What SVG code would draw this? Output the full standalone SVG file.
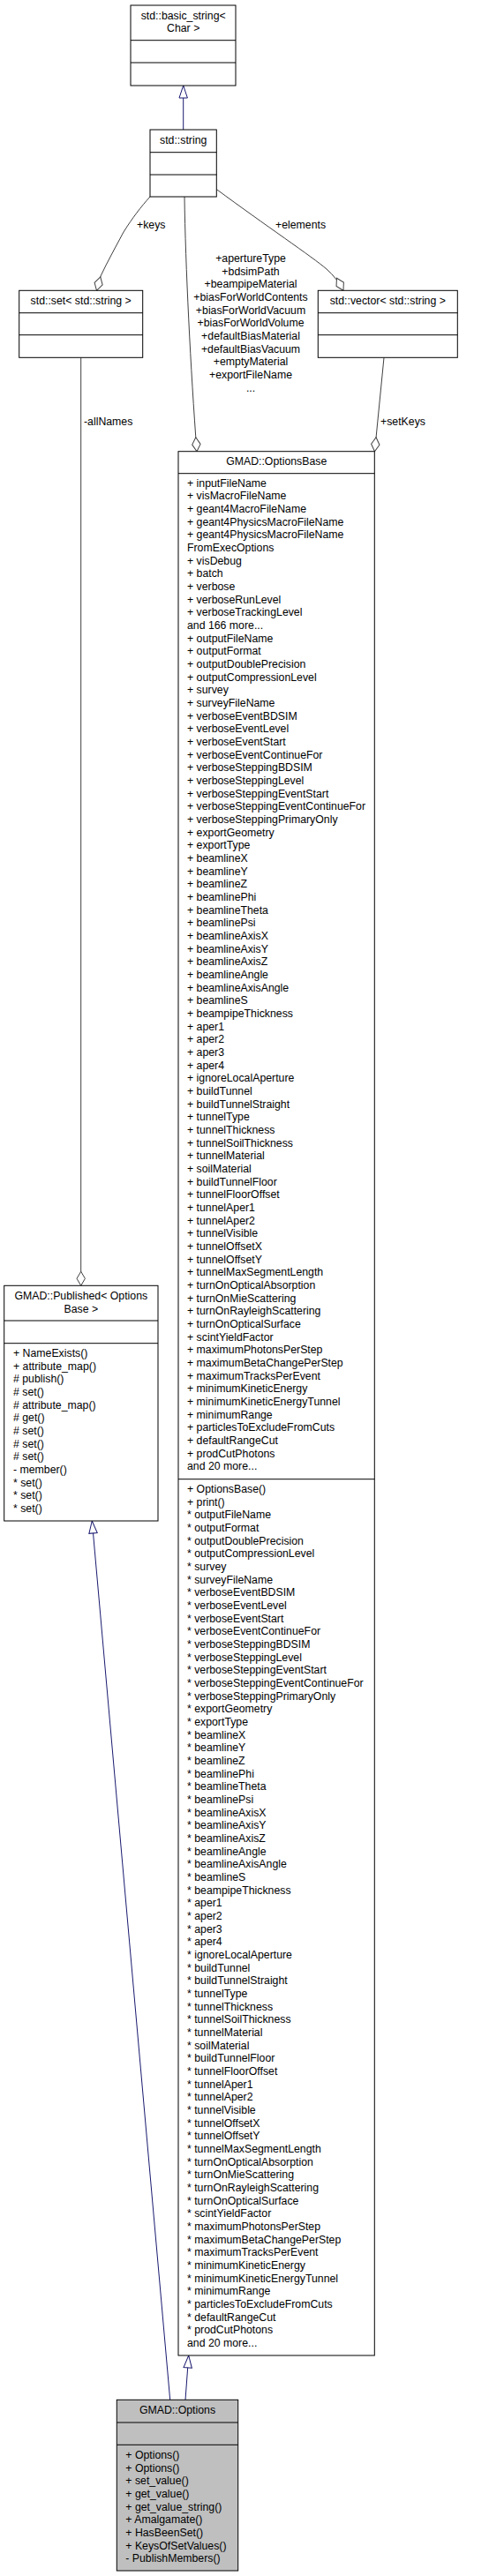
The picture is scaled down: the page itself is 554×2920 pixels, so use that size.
<svg xmlns="http://www.w3.org/2000/svg" width="554" height="2920" viewBox="0 0 554 2920">
<style>
text{font-family:"Liberation Sans",Arial,Helvetica,sans-serif;font-size:12.3px;fill:#000}
.c{text-anchor:middle}
.box{fill:#fff;stroke:#000;stroke-width:1}
.main{fill:#bfbfbf;stroke:#000;stroke-width:1}
.div{stroke:#000;stroke-width:1}
.agg{fill:none;stroke:#404040;stroke-width:1;marker-end:url(#dia)}
.inh{fill:none;stroke:#191970;stroke-width:1;marker-end:url(#tri)}
</style>
<defs>
<marker id="dia" markerUnits="userSpaceOnUse" orient="auto" refX="16" refY="0" markerWidth="20" markerHeight="12" overflow="visible">
<path d="M0,0 L8,-4.7 L16,0 L8,4.7 Z" fill="#fff" stroke="#404040" stroke-width="1"/>
</marker>
<marker id="tri" markerUnits="userSpaceOnUse" orient="auto" refX="14" refY="0" markerWidth="16" markerHeight="12" overflow="visible">
<path d="M0,-4.7 L14,0 L0,4.7 Z" fill="#fff" stroke="#191970" stroke-width="1"/>
</marker>
</defs>

<g id="connectors">
<path class="inh" d="M207.7,147 L207.7,97"/>
<path class="agg" d="M170,223 C160,234 150,247 140,263 C132,278 121,298 114,313 L109.5,329.3"/>
<path class="agg" d="M209,223 C210,300 216,420 223,511.7"/>
<path class="agg" d="M245.5,214.7 C300,255 355,292 370,305 C378,312 384,320 389,329.3"/>
<path class="agg" d="M435,405.3 L424.5,511.7"/>
<path class="agg" d="M91.7,405.3 L91.7,1457.3"/>
<path class="inh" d="M192.7,2720.3 L104.3,1724"/>
<path class="inh" d="M210,2720.3 L213.7,2670"/>
<text x="155" y="258.5">+keys</text>
<text x="312" y="258.5">+elements</text>
<text x="95" y="482">-allNames</text>
<text x="431" y="482">+setKeys</text>
<text class="c" y="297"><tspan x="284">+apertureType</tspan><tspan x="284" dy="14.667">+bdsimPath</tspan><tspan x="284" dy="14.667">+beampipeMaterial</tspan><tspan x="284" dy="14.667">+biasForWorldContents</tspan><tspan x="284" dy="14.667">+biasForWorldVacuum</tspan><tspan x="284" dy="14.667">+biasForWorldVolume</tspan><tspan x="284" dy="14.667">+defaultBiasMaterial</tspan><tspan x="284" dy="14.667">+defaultBiasVacuum</tspan><tspan x="284" dy="14.667">+emptyMaterial</tspan><tspan x="284" dy="14.667">+exportFileName</tspan><tspan x="284" dy="14.667">...</tspan></text>
</g>

<g id="node-basic_string">
<rect class="box" x="148" y="6" width="119" height="91"/>
<line class="div" x1="148" y1="45.7" x2="267" y2="45.7"/>
<line class="div" x1="148" y1="71" x2="267" y2="71"/>
<text class="c" x="207.7" y="21.6">std::basic_string&lt;</text>
<text class="c" x="207.7" y="36">Char &gt;</text>
</g>

<g id="node-string">
<rect class="box" x="170" y="147" width="75.3" height="76"/>
<line class="div" x1="170" y1="172.7" x2="245.3" y2="172.7"/>
<line class="div" x1="170" y1="198" x2="245.3" y2="198"/>
<text class="c" x="207.7" y="163">std::string</text>
</g>

<g id="node-set">
<rect class="box" x="21.7" y="329.3" width="140" height="76"/>
<line class="div" x1="21.7" y1="354.7" x2="161.7" y2="354.7"/>
<line class="div" x1="21.7" y1="379.7" x2="161.7" y2="379.7"/>
<text class="c" x="91.7" y="345.3">std::set&lt; std::string &gt;</text>
</g>

<g id="node-vector">
<rect class="box" x="360.3" y="329.3" width="158" height="76"/>
<line class="div" x1="360.3" y1="354.7" x2="518.3" y2="354.7"/>
<line class="div" x1="360.3" y1="379.7" x2="518.3" y2="379.7"/>
<text class="c" x="439.3" y="345.3">std::vector&lt; std::string &gt;</text>
</g>

<g id="node-OptionsBase">
<rect class="box" x="202" y="511.7" width="222.3" height="2158.3"/>
<line class="div" x1="202" y1="536.7" x2="424.3" y2="536.7"/>
<line class="div" x1="202" y1="1676.7" x2="424.3" y2="1676.7"/>
<text class="c" x="313.2" y="526.6">GMAD::OptionsBase</text>
<text y="551.8"><tspan x="212">+ inputFileName</tspan><tspan x="212" dy="14.667">+ visMacroFileName</tspan><tspan x="212" dy="14.667">+ geant4MacroFileName</tspan><tspan x="212" dy="14.667">+ geant4PhysicsMacroFileName</tspan><tspan x="212" dy="14.667">+ geant4PhysicsMacroFileName</tspan><tspan x="212" dy="14.667">FromExecOptions</tspan><tspan x="212" dy="14.667">+ visDebug</tspan><tspan x="212" dy="14.667">+ batch</tspan><tspan x="212" dy="14.667">+ verbose</tspan><tspan x="212" dy="14.667">+ verboseRunLevel</tspan><tspan x="212" dy="14.667">+ verboseTrackingLevel</tspan><tspan x="212" dy="14.667">and 166 more...</tspan><tspan x="212" dy="14.667">+ outputFileName</tspan><tspan x="212" dy="14.667">+ outputFormat</tspan><tspan x="212" dy="14.667">+ outputDoublePrecision</tspan><tspan x="212" dy="14.667">+ outputCompressionLevel</tspan><tspan x="212" dy="14.667">+ survey</tspan><tspan x="212" dy="14.667">+ surveyFileName</tspan><tspan x="212" dy="14.667">+ verboseEventBDSIM</tspan><tspan x="212" dy="14.667">+ verboseEventLevel</tspan><tspan x="212" dy="14.667">+ verboseEventStart</tspan><tspan x="212" dy="14.667">+ verboseEventContinueFor</tspan><tspan x="212" dy="14.667">+ verboseSteppingBDSIM</tspan><tspan x="212" dy="14.667">+ verboseSteppingLevel</tspan><tspan x="212" dy="14.667">+ verboseSteppingEventStart</tspan><tspan x="212" dy="14.667">+ verboseSteppingEventContinueFor</tspan><tspan x="212" dy="14.667">+ verboseSteppingPrimaryOnly</tspan><tspan x="212" dy="14.667">+ exportGeometry</tspan><tspan x="212" dy="14.667">+ exportType</tspan><tspan x="212" dy="14.667">+ beamlineX</tspan><tspan x="212" dy="14.667">+ beamlineY</tspan><tspan x="212" dy="14.667">+ beamlineZ</tspan><tspan x="212" dy="14.667">+ beamlinePhi</tspan><tspan x="212" dy="14.667">+ beamlineTheta</tspan><tspan x="212" dy="14.667">+ beamlinePsi</tspan><tspan x="212" dy="14.667">+ beamlineAxisX</tspan><tspan x="212" dy="14.667">+ beamlineAxisY</tspan><tspan x="212" dy="14.667">+ beamlineAxisZ</tspan><tspan x="212" dy="14.667">+ beamlineAngle</tspan><tspan x="212" dy="14.667">+ beamlineAxisAngle</tspan><tspan x="212" dy="14.667">+ beamlineS</tspan><tspan x="212" dy="14.667">+ beampipeThickness</tspan><tspan x="212" dy="14.667">+ aper1</tspan><tspan x="212" dy="14.667">+ aper2</tspan><tspan x="212" dy="14.667">+ aper3</tspan><tspan x="212" dy="14.667">+ aper4</tspan><tspan x="212" dy="14.667">+ ignoreLocalAperture</tspan><tspan x="212" dy="14.667">+ buildTunnel</tspan><tspan x="212" dy="14.667">+ buildTunnelStraight</tspan><tspan x="212" dy="14.667">+ tunnelType</tspan><tspan x="212" dy="14.667">+ tunnelThickness</tspan><tspan x="212" dy="14.667">+ tunnelSoilThickness</tspan><tspan x="212" dy="14.667">+ tunnelMaterial</tspan><tspan x="212" dy="14.667">+ soilMaterial</tspan><tspan x="212" dy="14.667">+ buildTunnelFloor</tspan><tspan x="212" dy="14.667">+ tunnelFloorOffset</tspan><tspan x="212" dy="14.667">+ tunnelAper1</tspan><tspan x="212" dy="14.667">+ tunnelAper2</tspan><tspan x="212" dy="14.667">+ tunnelVisible</tspan><tspan x="212" dy="14.667">+ tunnelOffsetX</tspan><tspan x="212" dy="14.667">+ tunnelOffsetY</tspan><tspan x="212" dy="14.667">+ tunnelMaxSegmentLength</tspan><tspan x="212" dy="14.667">+ turnOnOpticalAbsorption</tspan><tspan x="212" dy="14.667">+ turnOnMieScattering</tspan><tspan x="212" dy="14.667">+ turnOnRayleighScattering</tspan><tspan x="212" dy="14.667">+ turnOnOpticalSurface</tspan><tspan x="212" dy="14.667">+ scintYieldFactor</tspan><tspan x="212" dy="14.667">+ maximumPhotonsPerStep</tspan><tspan x="212" dy="14.667">+ maximumBetaChangePerStep</tspan><tspan x="212" dy="14.667">+ maximumTracksPerEvent</tspan><tspan x="212" dy="14.667">+ minimumKineticEnergy</tspan><tspan x="212" dy="14.667">+ minimumKineticEnergyTunnel</tspan><tspan x="212" dy="14.667">+ minimumRange</tspan><tspan x="212" dy="14.667">+ particlesToExcludeFromCuts</tspan><tspan x="212" dy="14.667">+ defaultRangeCut</tspan><tspan x="212" dy="14.667">+ prodCutPhotons</tspan><tspan x="212" dy="14.667">and 20 more...</tspan></text>
<text y="1692"><tspan x="212">+ OptionsBase()</tspan><tspan x="212" dy="14.667">+ print()</tspan><tspan x="212" dy="14.667">* outputFileName</tspan><tspan x="212" dy="14.667">* outputFormat</tspan><tspan x="212" dy="14.667">* outputDoublePrecision</tspan><tspan x="212" dy="14.667">* outputCompressionLevel</tspan><tspan x="212" dy="14.667">* survey</tspan><tspan x="212" dy="14.667">* surveyFileName</tspan><tspan x="212" dy="14.667">* verboseEventBDSIM</tspan><tspan x="212" dy="14.667">* verboseEventLevel</tspan><tspan x="212" dy="14.667">* verboseEventStart</tspan><tspan x="212" dy="14.667">* verboseEventContinueFor</tspan><tspan x="212" dy="14.667">* verboseSteppingBDSIM</tspan><tspan x="212" dy="14.667">* verboseSteppingLevel</tspan><tspan x="212" dy="14.667">* verboseSteppingEventStart</tspan><tspan x="212" dy="14.667">* verboseSteppingEventContinueFor</tspan><tspan x="212" dy="14.667">* verboseSteppingPrimaryOnly</tspan><tspan x="212" dy="14.667">* exportGeometry</tspan><tspan x="212" dy="14.667">* exportType</tspan><tspan x="212" dy="14.667">* beamlineX</tspan><tspan x="212" dy="14.667">* beamlineY</tspan><tspan x="212" dy="14.667">* beamlineZ</tspan><tspan x="212" dy="14.667">* beamlinePhi</tspan><tspan x="212" dy="14.667">* beamlineTheta</tspan><tspan x="212" dy="14.667">* beamlinePsi</tspan><tspan x="212" dy="14.667">* beamlineAxisX</tspan><tspan x="212" dy="14.667">* beamlineAxisY</tspan><tspan x="212" dy="14.667">* beamlineAxisZ</tspan><tspan x="212" dy="14.667">* beamlineAngle</tspan><tspan x="212" dy="14.667">* beamlineAxisAngle</tspan><tspan x="212" dy="14.667">* beamlineS</tspan><tspan x="212" dy="14.667">* beampipeThickness</tspan><tspan x="212" dy="14.667">* aper1</tspan><tspan x="212" dy="14.667">* aper2</tspan><tspan x="212" dy="14.667">* aper3</tspan><tspan x="212" dy="14.667">* aper4</tspan><tspan x="212" dy="14.667">* ignoreLocalAperture</tspan><tspan x="212" dy="14.667">* buildTunnel</tspan><tspan x="212" dy="14.667">* buildTunnelStraight</tspan><tspan x="212" dy="14.667">* tunnelType</tspan><tspan x="212" dy="14.667">* tunnelThickness</tspan><tspan x="212" dy="14.667">* tunnelSoilThickness</tspan><tspan x="212" dy="14.667">* tunnelMaterial</tspan><tspan x="212" dy="14.667">* soilMaterial</tspan><tspan x="212" dy="14.667">* buildTunnelFloor</tspan><tspan x="212" dy="14.667">* tunnelFloorOffset</tspan><tspan x="212" dy="14.667">* tunnelAper1</tspan><tspan x="212" dy="14.667">* tunnelAper2</tspan><tspan x="212" dy="14.667">* tunnelVisible</tspan><tspan x="212" dy="14.667">* tunnelOffsetX</tspan><tspan x="212" dy="14.667">* tunnelOffsetY</tspan><tspan x="212" dy="14.667">* tunnelMaxSegmentLength</tspan><tspan x="212" dy="14.667">* turnOnOpticalAbsorption</tspan><tspan x="212" dy="14.667">* turnOnMieScattering</tspan><tspan x="212" dy="14.667">* turnOnRayleighScattering</tspan><tspan x="212" dy="14.667">* turnOnOpticalSurface</tspan><tspan x="212" dy="14.667">* scintYieldFactor</tspan><tspan x="212" dy="14.667">* maximumPhotonsPerStep</tspan><tspan x="212" dy="14.667">* maximumBetaChangePerStep</tspan><tspan x="212" dy="14.667">* maximumTracksPerEvent</tspan><tspan x="212" dy="14.667">* minimumKineticEnergy</tspan><tspan x="212" dy="14.667">* minimumKineticEnergyTunnel</tspan><tspan x="212" dy="14.667">* minimumRange</tspan><tspan x="212" dy="14.667">* particlesToExcludeFromCuts</tspan><tspan x="212" dy="14.667">* defaultRangeCut</tspan><tspan x="212" dy="14.667">* prodCutPhotons</tspan><tspan x="212" dy="14.667">and 20 more...</tspan></text>
</g>

<g id="node-Published">
<rect class="box" x="4.7" y="1457.3" width="174.3" height="266.7"/>
<line class="div" x1="4.7" y1="1497" x2="179" y2="1497"/>
<line class="div" x1="4.7" y1="1522.7" x2="179" y2="1522.7"/>
<text class="c" x="91.8" y="1473">GMAD::Published&lt; Options</text>
<text class="c" x="91.8" y="1488">Base &gt;</text>
<text y="1538"><tspan x="15">+ NameExists()</tspan><tspan x="15" dy="14.667">+ attribute_map()</tspan><tspan x="15" dy="14.667"># publish()</tspan><tspan x="15" dy="14.667"># set()</tspan><tspan x="15" dy="14.667"># attribute_map()</tspan><tspan x="15" dy="14.667"># get()</tspan><tspan x="15" dy="14.667"># set()</tspan><tspan x="15" dy="14.667"># set()</tspan><tspan x="15" dy="14.667"># set()</tspan><tspan x="15" dy="14.667">- member()</tspan><tspan x="15" dy="14.667">* set()</tspan><tspan x="15" dy="14.667">* set()</tspan><tspan x="15" dy="14.667">* set()</tspan></text>
</g>

<g id="node-Options">
<rect class="main" x="132.3" y="2720.3" width="137.4" height="193.7"/>
<line class="div" x1="132.3" y1="2746" x2="269.7" y2="2746"/>
<line class="div" x1="132.3" y1="2771.3" x2="269.7" y2="2771.3"/>
<text class="c" x="201" y="2735.6">GMAD::Options</text>
<text y="2787"><tspan x="142.3">+ Options()</tspan><tspan x="142.3" dy="14.667">+ Options()</tspan><tspan x="142.3" dy="14.667">+ set_value()</tspan><tspan x="142.3" dy="14.667">+ get_value()</tspan><tspan x="142.3" dy="14.667">+ get_value_string()</tspan><tspan x="142.3" dy="14.667">+ Amalgamate()</tspan><tspan x="142.3" dy="14.667">+ HasBeenSet()</tspan><tspan x="142.3" dy="14.667">+ KeysOfSetValues()</tspan><tspan x="142.3" dy="14.667">- PublishMembers()</tspan></text>
</g>
</svg>
